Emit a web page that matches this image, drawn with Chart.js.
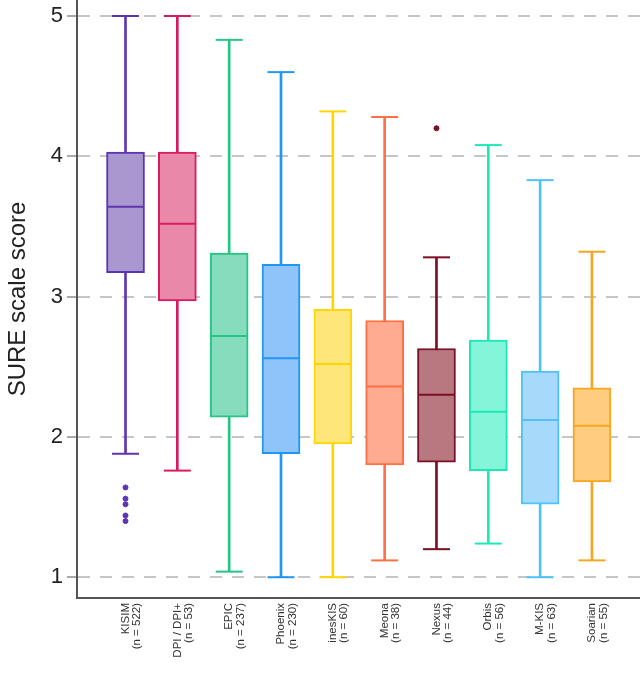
<!DOCTYPE html>
<html>
<head>
<meta charset="utf-8">
<script src="https://cdn.jsdelivr.net/npm/chart.js@4"></script>
<style>
  body { margin: 0; background: #ffffff; }
</style>
</head>
<body>
<canvas id="sureChart" width="640" height="680"></canvas>
<script>
const systems = ['KISIM', 'DPI / DPI+', 'EPIC', 'Phoenix', 'inesKIS', 'Meona', 'Nexus', 'Orbis', 'M-KIS', 'Soarian'];
const sampleSizes = [522, 53, 237, 230, 60, 38, 44, 56, 63, 55];

const whiskerLow  = [1.88, 1.76, 1.04, 1.00, 1.00, 1.12, 1.20, 1.24, 1.00, 1.12];
const q1          = [3.17, 2.97, 2.14, 1.88, 1.95, 1.80, 1.82, 1.76, 1.52, 1.68];
const median      = [3.64, 3.52, 2.72, 2.56, 2.52, 2.36, 2.30, 2.18, 2.12, 2.08];
const q3          = [4.03, 4.03, 3.31, 3.23, 2.91, 2.83, 2.63, 2.69, 2.47, 2.35];
const whiskerHigh = [5.00, 5.00, 4.83, 4.60, 4.32, 4.28, 3.28, 4.08, 3.83, 3.32];
const outliers    = [[1.64, 1.56, 1.52, 1.44, 1.40], [], [], [], [], [], [4.20], [], [], []];

const yTicks = [1, 2, 3, 4, 5];

const lineColors = ['#5e35b1', '#d81b60', '#26c485', '#2196f3', '#ffd600', '#ff7043', '#7b0f27', '#1de9b6', '#4fc3f7', '#f5a623'];
const fillColors = ['#a898cf', '#ea88aa', '#86ddbd', '#8ec4fa', '#ffe67a', '#ffab91', '#b7787f', '#85f5d9', '#a7dafa', '#ffcc80'];

const idx = systems.map((s, i) => i);

const whiskerData = idx.map(i => ({ x: i, y: [whiskerLow[i], whiskerHigh[i]] }));
const boxData = idx.map(i => ({ x: i, y: [q1[i], q3[i]] }));
const medianData = idx.map(i => ({ x: i, y: median[i] }));
const capData = idx.flatMap(i => [{ x: i, y: whiskerLow[i] }, { x: i, y: whiskerHigh[i] }]);
const capColors = idx.flatMap(i => [lineColors[i], lineColors[i]]);
const outlierData = idx.flatMap(i => outliers[i].map(v => ({ x: i, y: v })));
const outlierColors = idx.flatMap(i => outliers[i].map(() => lineColors[i]));

const ctx = document.getElementById('sureChart').getContext('2d');

new Chart(ctx, {
    type: 'bar',
    data: {
        datasets: [
            {
                label: 'whiskers',
                data: whiskerData,
                backgroundColor: lineColors,
                borderWidth: 0,
                barThickness: 2,
                grouped: false,
                order: 3
            },
            {
                label: 'boxes',
                data: boxData,
                backgroundColor: fillColors,
                borderColor: lineColors,
                borderWidth: 2,
                borderSkipped: false,
                barThickness: 38,
                grouped: false,
                order: 2
            },
            {
                type: 'scatter',
                label: 'medians',
                data: medianData,
                pointStyle: 'line',
                pointRadius: 18,
                pointBorderWidth: 2,
                pointBorderColor: lineColors,
                order: 1
            },
            {
                type: 'scatter',
                label: 'caps',
                data: capData,
                pointStyle: 'line',
                pointRadius: 13.5,
                pointBorderWidth: 2,
                pointBorderColor: capColors,
                clip: false,
                order: 1
            },
            {
                type: 'scatter',
                label: 'outliers',
                data: outlierData,
                pointStyle: 'circle',
                pointRadius: 2.5,
                pointBorderWidth: 1,
                pointBackgroundColor: outlierColors,
                pointBorderColor: outlierColors,
                order: 0
            }
        ]
    },
    options: {
        responsive: false,
        animation: false,
        layout: { padding: 0, autoPadding: false },
        plugins: {
            legend: { display: false },
            tooltip: { enabled: false }
        },
        scales: {
            x: {
                type: 'linear',
                min: -0.936,
                max: 9.927,
                offset: false,
                afterBuildTicks: scale => { scale.ticks = idx.map(i => ({ value: i })); },
                afterFit: scale => {
                    scale.height = 82;
                    scale.paddingLeft = 0;
                    scale.paddingRight = 0;
                },
                grid: { display: false, drawTicks: false },
                border: { display: true, color: '#555555', width: 2 },
                ticks: {
                    autoSkip: false,
                    minRotation: 90,
                    maxRotation: 90,
                    padding: 5,
                    color: '#333333',
                    font: { family: 'Liberation Sans, Arial, sans-serif', size: 11.5, lineHeight: 1 },
                    callback: value => [systems[value], '(n = ' + sampleSizes[value] + ')']
                }
            },
            y: {
                min: 0.852,
                max: 5.114,
                afterBuildTicks: scale => { scale.ticks = yTicks.map(v => ({ value: v })); },
                afterFit: scale => {
                    scale.width = 77;
                    scale.paddingTop = 0;
                    scale.paddingBottom = 0;
                },
                grid: {
                    color: '#c6c6c6',
                    lineWidth: 2,
                    tickLength: 10,
                    tickColor: '#aaaaaa',
                    tickWidth: 2
                },
                border: { display: true, color: '#555555', width: 2, dash: [12, 10] },
                ticks: {
                    padding: 4,
                    color: '#222222',
                    font: { family: 'Liberation Sans, Arial, sans-serif', size: 22 }
                },
                title: {
                    display: true,
                    text: 'SURE scale score',
                    color: '#222222',
                    padding: 4,
                    font: { family: 'Liberation Sans, Arial, sans-serif', size: 24 }
                }
            }
        }
    }
});
</script>
</body>
</html>
